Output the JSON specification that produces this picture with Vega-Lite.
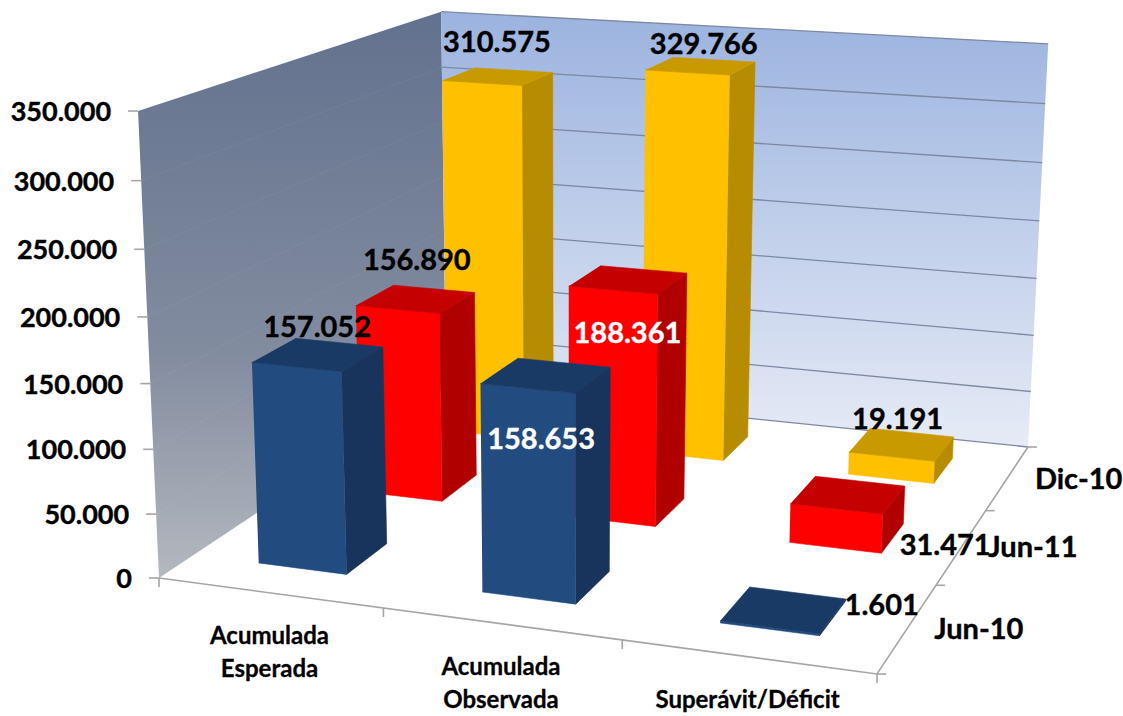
{
"$schema":"https://vega.github.io/schema/vega-lite/v6.json",
"width":1123,"height":716,"padding":0,"autosize":{"type":"none"},
"background":"white",
"config":{"view":{"stroke":null}},
"datasets":{
"barras":[
{"categoria":"Acumulada Esperada","serie":"Dic-10","valor":310575},
{"categoria":"Acumulada Observada","serie":"Dic-10","valor":329766},
{"categoria":"Superávit/Déficit","serie":"Dic-10","valor":19191},
{"categoria":"Acumulada Esperada","serie":"Jun-11","valor":156890},
{"categoria":"Acumulada Observada","serie":"Jun-11","valor":188361},
{"categoria":"Superávit/Déficit","serie":"Jun-11","valor":31471},
{"categoria":"Acumulada Esperada","serie":"Jun-10","valor":157052},
{"categoria":"Acumulada Observada","serie":"Jun-10","valor":158653},
{"categoria":"Superávit/Déficit","serie":"Jun-10","valor":1601}
],
"eje":[{"valor":0},{"valor":50000},{"valor":100000},{"valor":150000},{"valor":200000},{"valor":250000},{"valor":300000},{"valor":350000}],
"paredes":[
{"pared":"lateral","orden":0,"u":0,"v":0,"t":0},
{"pared":"lateral","orden":1,"u":0,"v":1,"t":0},
{"pared":"lateral","orden":2,"u":0,"v":1,"t":1},
{"pared":"lateral","orden":3,"u":0,"v":0,"t":1},
{"pared":"fondo","orden":0,"u":0,"v":1,"t":0},
{"pared":"fondo","orden":1,"u":1,"v":1,"t":0},
{"pared":"fondo","orden":2,"u":1,"v":1,"t":1},
{"pared":"fondo","orden":3,"u":0,"v":1,"t":1}
],
"piso":[{"orden":0,"u":0,"v":0,"t":0},{"orden":1,"u":1,"v":0,"t":0},{"orden":2,"u":1,"v":1,"t":0}],
"cortes":[{"n":0},{"n":1},{"n":2},{"n":3}],
"categorias":[{"categoria":"Acumulada Esperada","i":0},{"categoria":"Acumulada Observada","i":1},{"categoria":"Superávit/Déficit","i":2}],
"series":[{"serie":"Jun-10","j":0},{"serie":"Jun-11","j":1},{"serie":"Dic-10","j":2}]
},
"encoding":{
"x":{"field":"px","type":"quantitative","scale":{"domain":[0,1123],"nice":false,"zero":false},"axis":null},
"y":{"field":"py","type":"quantitative","scale":{"domain":[716,0],"nice":false,"zero":false},"axis":null}
},
"layer":[
{"data":{"name":"paredes"},"transform":[{"filter":"datum.pared=='lateral'"},
{"calculate":"1-0.09061*datum.u+0.25719*datum.v-0.0489*datum.t","as":"w"},
{"calculate":"(638.53*datum.u+401.71*datum.v+159-27.7*datum.t)/datum.w","as":"px"},
{"calculate":"(34.93*datum.u-91.47*datum.v+578-472.4*datum.t)/datum.w","as":"py"}],
"mark":{"type":"line","strokeWidth":0,"stroke":"transparent","fill":{"gradient":"linear","x1":0,"y1":0,"x2":0,"y2":1,"stops":[{"offset":0,"color":"#62718e"},{"offset":0.6,"color":"#828c9f"},{"offset":1,"color":"#b4b8bf"}]}},
"encoding":{"order":{"field":"orden"}}},
{"data":{"name":"paredes"},"transform":[{"filter":"datum.pared=='fondo'"},
{"calculate":"1-0.09061*datum.u+0.25719*datum.v-0.0489*datum.t","as":"w"},
{"calculate":"(638.53*datum.u+401.71*datum.v+159-27.7*datum.t)/datum.w","as":"px"},
{"calculate":"(34.93*datum.u-91.47*datum.v+578-472.4*datum.t)/datum.w","as":"py"}],
"mark":{"type":"line","strokeWidth":0,"stroke":"transparent","fill":{"gradient":"linear","x1":0,"y1":0,"x2":0,"y2":1,"stops":[{"offset":0,"color":"#9bb3df"},{"offset":1,"color":"#e6ebf6"}]}},
"encoding":{"order":{"field":"orden"}}},
{"data":{"name":"eje"},"transform":[{"calculate":"[0,1]","as":"u"},{"flatten":["u"]},{"calculate":"1","as":"v"},{"calculate":"datum.valor/350000","as":"t"},
{"calculate":"1-0.09061*datum.u+0.25719*datum.v-0.0489*datum.t","as":"w"},
{"calculate":"(638.53*datum.u+401.71*datum.v+159-27.7*datum.t)/datum.w","as":"px"},
{"calculate":"(34.93*datum.u-91.47*datum.v+578-472.4*datum.t)/datum.w","as":"py"}],
"mark":{"type":"line","stroke":"#7d88a3","strokeWidth":1.3},
"encoding":{"detail":{"field":"valor"},"order":{"field":"u"}}},
{"data":{"name":"eje"},"transform":[{"calculate":"[0,1]","as":"v"},{"flatten":["v"]},{"calculate":"0","as":"u"},{"calculate":"datum.valor/350000","as":"t"},
{"calculate":"1-0.09061*datum.u+0.25719*datum.v-0.0489*datum.t","as":"w"},
{"calculate":"(638.53*datum.u+401.71*datum.v+159-27.7*datum.t)/datum.w","as":"px"},
{"calculate":"(34.93*datum.u-91.47*datum.v+578-472.4*datum.t)/datum.w","as":"py"}],
"mark":{"type":"line","stroke":"#ffffff","strokeOpacity":0.04,"strokeWidth":1.3},
"encoding":{"detail":{"field":"valor"},"order":{"field":"v"}}},
{"data":{"name":"piso"},"transform":[
{"calculate":"1-0.09061*datum.u+0.25719*datum.v-0.0489*datum.t","as":"w"},
{"calculate":"(638.53*datum.u+401.71*datum.v+159-27.7*datum.t)/datum.w","as":"px"},
{"calculate":"(34.93*datum.u-91.47*datum.v+578-472.4*datum.t)/datum.w","as":"py"}],
"mark":{"type":"line","stroke":"#a6a6a6","strokeWidth":1.6},
"encoding":{"order":{"field":"orden"}}},
{"data":{"name":"eje"},"transform":[{"calculate":"0","as":"u"},{"calculate":"0","as":"v"},{"calculate":"datum.valor/350000","as":"t"},
{"calculate":"1-0.09061*datum.u+0.25719*datum.v-0.0489*datum.t","as":"w"},
{"calculate":"(638.53*datum.u+401.71*datum.v+159-27.7*datum.t)/datum.w","as":"px"},
{"calculate":"(34.93*datum.u-91.47*datum.v+578-472.4*datum.t)/datum.w","as":"py"},
{"calculate":"datum.px-10","as":"px2"},
{"calculate":"replace(format(datum.valor,',d'),',','.')","as":"etiqueta"}],
"layer":[
{"mark":{"type":"rule","stroke":"#a6a6a6","strokeWidth":1.6},"encoding":{"x2":{"field":"px2"}}},
{"mark":{"type":"text","align":"right","baseline":"middle","dx":-27,"dy":2,"font":"Lato","fontWeight":"bold","fontSize":27,"fill":"#000000","stroke":"#000000","strokeWidth":0.4},"encoding":{"text":{"field":"etiqueta"}}}
]},
{"data":{"name":"cortes"},"transform":[{"calculate":"datum.n/3","as":"u"},{"calculate":"0","as":"v"},{"calculate":"0","as":"t"},
{"calculate":"1-0.09061*datum.u+0.25719*datum.v-0.0489*datum.t","as":"w"},
{"calculate":"(638.53*datum.u+401.71*datum.v+159-27.7*datum.t)/datum.w","as":"px"},
{"calculate":"(34.93*datum.u-91.47*datum.v+578-472.4*datum.t)/datum.w","as":"py"},
{"calculate":"datum.py+9","as":"py2"}],
"mark":{"type":"rule","stroke":"#a6a6a6","strokeWidth":1.6},"encoding":{"y2":{"field":"py2"}}},
{"data":{"name":"cortes"},"transform":[{"calculate":"1","as":"u"},{"calculate":"datum.n/3","as":"v"},{"calculate":"0","as":"t"},
{"calculate":"1-0.09061*datum.u+0.25719*datum.v-0.0489*datum.t","as":"w"},
{"calculate":"(638.53*datum.u+401.71*datum.v+159-27.7*datum.t)/datum.w","as":"px"},
{"calculate":"(34.93*datum.u-91.47*datum.v+578-472.4*datum.t)/datum.w","as":"py"},
{"calculate":"datum.px+9","as":"px2"}],
"mark":{"type":"rule","stroke":"#a6a6a6","strokeWidth":1.6},"encoding":{"x2":{"field":"px2"}}},
{"data":{"name":"categorias"},"transform":[{"calculate":"(datum.i+0.5)/3","as":"u"},{"calculate":"0","as":"v"},{"calculate":"0","as":"t"},
{"calculate":"1-0.09061*datum.u+0.25719*datum.v-0.0489*datum.t","as":"w"},
{"calculate":"(638.53*datum.u+401.71*datum.v+159-27.7*datum.t)/datum.w","as":"px"},
{"calculate":"(34.93*datum.u-91.47*datum.v+578-472.4*datum.t)/datum.w","as":"py"}],
"mark":{"type":"text","align":"center","baseline":"top","dy":32,"font":"Lato","fontWeight":"bold","fontSize":24,"lineHeight":33,"lineBreak":" ","fill":"#000000","stroke":"#000000","strokeWidth":0.3},
"encoding":{"text":{"field":"categoria"}}},
{"data":{"name":"series"},"transform":[{"calculate":"1","as":"u"},{"calculate":"(datum.j+0.5)/3","as":"v"},{"calculate":"0","as":"t"},
{"calculate":"1-0.09061*datum.u+0.25719*datum.v-0.0489*datum.t","as":"w"},
{"calculate":"(638.53*datum.u+401.71*datum.v+159-27.7*datum.t)/datum.w","as":"px"},
{"calculate":"(34.93*datum.u-91.47*datum.v+578-472.4*datum.t)/datum.w","as":"py"}],
"mark":{"type":"text","align":"center","baseline":"middle","dx":71,"dy":2,"font":"Lato","fontWeight":"bold","fontSize":29,"fill":"#000000","stroke":"#000000","strokeWidth":0.4},
"encoding":{"text":{"field":"serie"}}},
{"data":{"name":"barras"},"transform":[
{"calculate":"indexof(['Acumulada Esperada','Acumulada Observada','Superávit/Déficit'],datum.categoria)","as":"i"},
{"calculate":"indexof(['Jun-10','Jun-11','Dic-10'],datum.serie)","as":"j"},
{"calculate":"[0,1,2,3,4,5,6,7,8,9,10,11]","as":"k"},{"flatten":["k"]},
{"calculate":"(datum.i+0.3+0.4*[0,1,1,0,1,1,1,1,0,1,1,0][datum.k])/3","as":"u"},
{"calculate":"(datum.j+0.3+0.4*[0,0,0,0,0,1,1,0,0,0,1,1][datum.k])/3","as":"v"},
{"calculate":"[0,0,1,1,0,0,1,1,1,1,1,1][datum.k]*datum.valor/350000","as":"t"},
{"calculate":"datum.serie+' '+(datum.k<4?'frontal':datum.k<8?'lateral':'superior')","as":"cara"},
{"calculate":"datum.categoria+' '+datum.cara","as":"poligono"},
{"calculate":"1-0.09061*datum.u+0.25719*datum.v-0.0489*datum.t","as":"w"},
{"calculate":"(638.53*datum.u+401.71*datum.v+159-27.7*datum.t)/datum.w","as":"px"},
{"calculate":"(34.93*datum.u-91.47*datum.v+578-472.4*datum.t)/datum.w","as":"py"}],
"mark":{"type":"line","strokeWidth":0.6,"strokeJoin":"round"},
"encoding":{
"detail":{"field":"poligono"},
"order":{"field":"k"},
"fill":{"field":"cara","type":"nominal","legend":null,"scale":{"domain":["Jun-10 frontal","Jun-10 lateral","Jun-10 superior","Jun-11 frontal","Jun-11 lateral","Jun-11 superior","Dic-10 frontal","Dic-10 lateral","Dic-10 superior"],"range":["#224b80","#18345c","#1a3a66","#ff0000","#b00000","#c40000","#ffc000","#b88c00","#c99a00"]}},
"stroke":{"field":"cara","type":"nominal","legend":null,"scale":{"domain":["Jun-10 frontal","Jun-10 lateral","Jun-10 superior","Jun-11 frontal","Jun-11 lateral","Jun-11 superior","Dic-10 frontal","Dic-10 lateral","Dic-10 superior"],"range":["#224b80","#18345c","#1a3a66","#ff0000","#b00000","#c40000","#ffc000","#b88c00","#c99a00"]}}
}},
{"data":{"name":"barras"},"transform":[
{"calculate":"(indexof(['Acumulada Esperada','Acumulada Observada','Superávit/Déficit'],datum.categoria)+0.5)/3","as":"u"},
{"calculate":"(indexof(['Jun-10','Jun-11','Dic-10'],datum.serie)+0.5)/3","as":"v"},
{"calculate":"datum.valor/350000","as":"t"},
{"calculate":"1-0.09061*datum.u+0.25719*datum.v-0.0489*datum.t","as":"w"},
{"calculate":"(638.53*datum.u+401.71*datum.v+159-27.7*datum.t)/datum.w","as":"px"},
{"calculate":"(34.93*datum.u-91.47*datum.v+578-472.4*datum.t)/datum.w","as":"py"},
{"calculate":"replace(format(datum.valor,',d'),',','.')","as":"etiqueta"}],
"encoding":{"text":{"field":"etiqueta"}},
"layer":[
{"transform":[{"filter":"datum.valor==157052"}],"mark":{"type":"text","dx":-1,"dy":-27,"font":"Lato","fontWeight":"bold","fontSize":29,"baseline":"middle","fill":"#000000","stroke":"#000000","strokeWidth":0.4}},
{"transform":[{"filter":"datum.valor==156890"}],"mark":{"type":"text","dx":1,"dy":-38,"font":"Lato","fontWeight":"bold","fontSize":29,"baseline":"middle","fill":"#000000","stroke":"#000000","strokeWidth":0.4}},
{"transform":[{"filter":"datum.valor==310575"}],"mark":{"type":"text","dx":-1,"dy":-33,"font":"Lato","fontWeight":"bold","fontSize":29,"baseline":"middle","fill":"#000000","stroke":"#000000","strokeWidth":0.4}},
{"transform":[{"filter":"datum.valor==329766"}],"mark":{"type":"text","dx":3,"dy":-21,"font":"Lato","fontWeight":"bold","fontSize":29,"baseline":"middle","fill":"#000000","stroke":"#000000","strokeWidth":0.4}},
{"transform":[{"filter":"datum.valor==188361"}],"mark":{"type":"text","dx":-1,"dy":54,"font":"Lato","fontWeight":"bold","fontSize":29,"baseline":"middle","fill":"#ffffff","stroke":"#ffffff","strokeWidth":0.4}},
{"transform":[{"filter":"datum.valor==158653"}],"mark":{"type":"text","dx":-5,"dy":65,"font":"Lato","fontWeight":"bold","fontSize":29,"baseline":"middle","fill":"#ffffff","stroke":"#ffffff","strokeWidth":0.4}},
{"transform":[{"filter":"datum.valor==19191"}],"mark":{"type":"text","dx":-4,"dy":-24,"font":"Lato","fontWeight":"bold","fontSize":29,"baseline":"middle","fill":"#000000","stroke":"#000000","strokeWidth":0.4}},
{"transform":[{"filter":"datum.valor==31471"}],"mark":{"type":"text","dx":97,"dy":51,"font":"Lato","fontWeight":"bold","fontSize":29,"baseline":"middle","fill":"#000000","stroke":"#000000","strokeWidth":0.4}},
{"transform":[{"filter":"datum.valor==1601"}],"mark":{"type":"text","dx":98,"dy":-4,"font":"Lato","fontWeight":"bold","fontSize":29,"baseline":"middle","fill":"#000000","stroke":"#000000","strokeWidth":0.4}}
]}
]
}
